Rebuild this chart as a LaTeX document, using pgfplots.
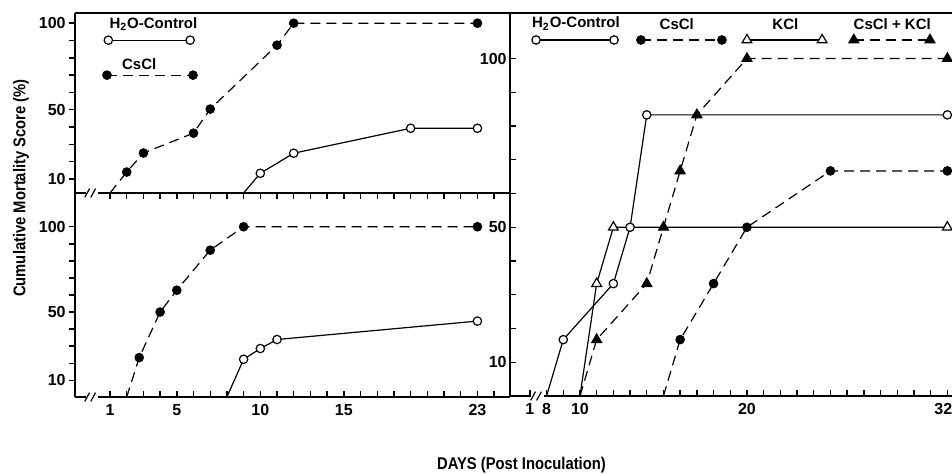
\documentclass[border=0pt]{standalone}
\usepackage{fontspec}
\setmainfont{Liberation Sans}
\newfontfamily\condfont{Liberation Sans}[FakeStretch=0.87]
\usepackage{pgfplots}
\pgfplotsset{compat=1.18}
\tikzset{brk/.style={line width=0.6pt}}
\pgfplotsset{
  every non boxed x axis/.style={},
  every non boxed y axis/.style={},
  panel/.style={scale only axis, clip=false,
    axis line style={-, line width=0.8pt},
    tick style={line width=0.7pt, black},
    major tick length=3pt, minor tick length=3pt,
    ticklabel style={font=\bfseries\fontsize{8}{9}\selectfont},
    yticklabel style={inner sep=1.5pt},
    axis y line=left, xtick pos=left,
    ytick={10,50,100}, yticklabels={10,50,100},
    minor ytick={20,30,40,60,70,80,90}},
  ctl/.style={black, line width=0.6pt, mark=*, mark size=2.1pt, mark options={solid, fill=white}},
  cs/.style={black, line width=0.6pt, dash pattern=on 5pt off 3pt, mark=*, mark size=2.1pt, mark options={solid, fill=black}},
  kcl/.style={black, line width=0.6pt, mark=triangle*, mark size=2.8pt, mark options={solid, fill=white}},
  cskcl/.style={black, line width=0.6pt, dash pattern=on 5pt off 3pt, mark=triangle*, mark size=2.8pt, mark options={solid, fill=black}},
}
\begin{document}
\begin{tikzpicture}[font=\bfseries\fontsize{7.5}{9}\selectfont]
\useasboundingbox (0,0) rectangle (476pt,237pt);

% top left panel
\begin{axis}[panel, at={(37.5pt,140.5pt)}, anchor=south west,
  width=217.5pt, height=90pt,
  xmin=-1.096, xmax=24.95, ymin=1.92, ymax=105.9,
  axis x line=box, xtick align=outside, ytick align=outside,
  xtick={1,...,24}, xticklabels={},
  axis line style={-}]
\addplot[cs, mark indices={2,3,4,5,6,7,8}] coordinates {(1,1.92) (2,14) (3,25) (6,36.5) (7,50.4) (11,87.3) (12,100) (23,100)};
\addplot[ctl, mark indices={2,3,4,5}] coordinates {(9,1.92) (10,13.3) (12,24.9) (19,39.3) (23,39.3)};
\addplot[ctl] coordinates {(0.9,90.2) (5.8,90.2)};
\addplot[cs] coordinates {(0.82,70) (5.97,70)};
\node[anchor=west] at (axis cs:0.55,99.5) {H\textsubscript{2}O-Control};
\node[anchor=west] at (axis cs:1.3,76.5) {CsCl};
\coordinate (b1) at (rel axis cs:0.039,0);
\fill[white] ([shift={(-3.2pt,-1.2pt)}]b1) rectangle ([shift={(3.2pt,1.2pt)}]b1);
\draw[brk] ([shift={(-3.6pt,-2.2pt)}]b1) -- ([shift={(-1.2pt,2.2pt)}]b1);
\draw[brk] ([shift={(-0.6pt,-2.2pt)}]b1) -- ([shift={(1.8pt,2.2pt)}]b1);
\end{axis}

% bottom left panel
\begin{axis}[panel, at={(37.5pt,38.5pt)}, anchor=south west,
  width=217.5pt, height=102pt,
  xmin=-1.096, xmax=24.95, ymin=0.2, ymax=119.8,
  axis x line=bottom, xtick align=inside, ytick align=outside,
  xtick={1,5,10,15,23}, xticklabels={1,5,10,15,23},
  minor xtick={2,3,4,6,7,8,9,11,12,13,14,16,17,18,19,20,21,22,24},
  axis line style={-}]
\addplot[cs, mark indices={2,3,4,5,6,7}] coordinates {(2,0.2) (2.75,23.3) (4,50) (5,62.8) (7,86.3) (9,100) (23,100)};
\addplot[ctl, mark indices={2,3,4,5}] coordinates {(8,0.2) (9,22.3) (10,28.6) (11,33.9) (23,44.7)};
\coordinate (b2) at (rel axis cs:0.039,0);
\fill[white] ([shift={(-3.2pt,-1.2pt)}]b2) rectangle ([shift={(3.2pt,1.2pt)}]b2);
\draw[brk] ([shift={(-3.6pt,-2.2pt)}]b2) -- ([shift={(-1.2pt,2.2pt)}]b2);
\draw[brk] ([shift={(-0.6pt,-2.2pt)}]b2) -- ([shift={(1.8pt,2.2pt)}]b2);
\end{axis}

% right panel
\begin{axis}[panel, at={(255pt,39pt)}, anchor=south west,
  width=221pt, height=191.5pt,
  xmin=5.81, xmax=32.28, ymin=0, ymax=113.5,
  axis x line=box, tick align=inside,
  xtick={7,8,10,20,32}, xticklabels={1,8,10,20,\hspace*{-4pt}32},
  minor xtick={9,11,12,...,19,21,22,...,31},
  axis line style={-}]
\addplot[ctl, mark indices={2,3,4,5,6}] coordinates {(8,0) (9,16.7) (12,33.3) (13,50) (14,83.3) (32,83.3)};
\addplot[kcl, mark indices={2,3,4}] coordinates {(10,0) (11,33.3) (12,50) (32,50)};
\addplot[cskcl, mark indices={2,3,4,5,6,7,8}] coordinates {(10,0) (11,16.7) (14,33.3) (15,50) (16,66.7) (17,83.3) (20,100) (32,100)};
\addplot[cs, mark indices={2,3,4,5,6}] coordinates {(15,0) (16,16.7) (18,33.3) (20,50) (25,66.7) (32,66.7)};
\addplot[ctl] coordinates {(7.37,105.5) (12.04,105.5)};
\addplot[cs] coordinates {(13.65,105.5) (18.5,105.5)};
\addplot[kcl] coordinates {(20,105.5) (24.5,105.5)};
\addplot[cskcl] coordinates {(26.4,105.5) (30.96,105.5)};
\node at (axis cs:9.76,110.3) {H\textsubscript{2}O-Control};
\node at (axis cs:15.8,110.3) {CsCl};
\node at (axis cs:22.3,110.3) {KCl};
\node at (axis cs:28.7,110.3) {CsCl + KCl};
\coordinate (b3) at (rel axis cs:0.063,0);
\fill[white] ([shift={(-3.2pt,-1.2pt)}]b3) rectangle ([shift={(3.2pt,1.2pt)}]b3);
\draw[brk] ([shift={(-3.6pt,-2.2pt)}]b3) -- ([shift={(-1.2pt,2.2pt)}]b3);
\draw[brk] ([shift={(-0.6pt,-2.2pt)}]b3) -- ([shift={(1.8pt,2.2pt)}]b3);
\end{axis}

\node[rotate=90, font=\condfont\bfseries\fontsize{8.5}{10}\selectfont] at (10.5pt,143pt) {Cumulative Mortality Score (\%)};
\node[anchor=west, font=\condfont\bfseries\fontsize{8.5}{10}\selectfont] at (215pt,4.5pt) {DAYS (Post Inoculation)};
\end{tikzpicture}
\end{document}
